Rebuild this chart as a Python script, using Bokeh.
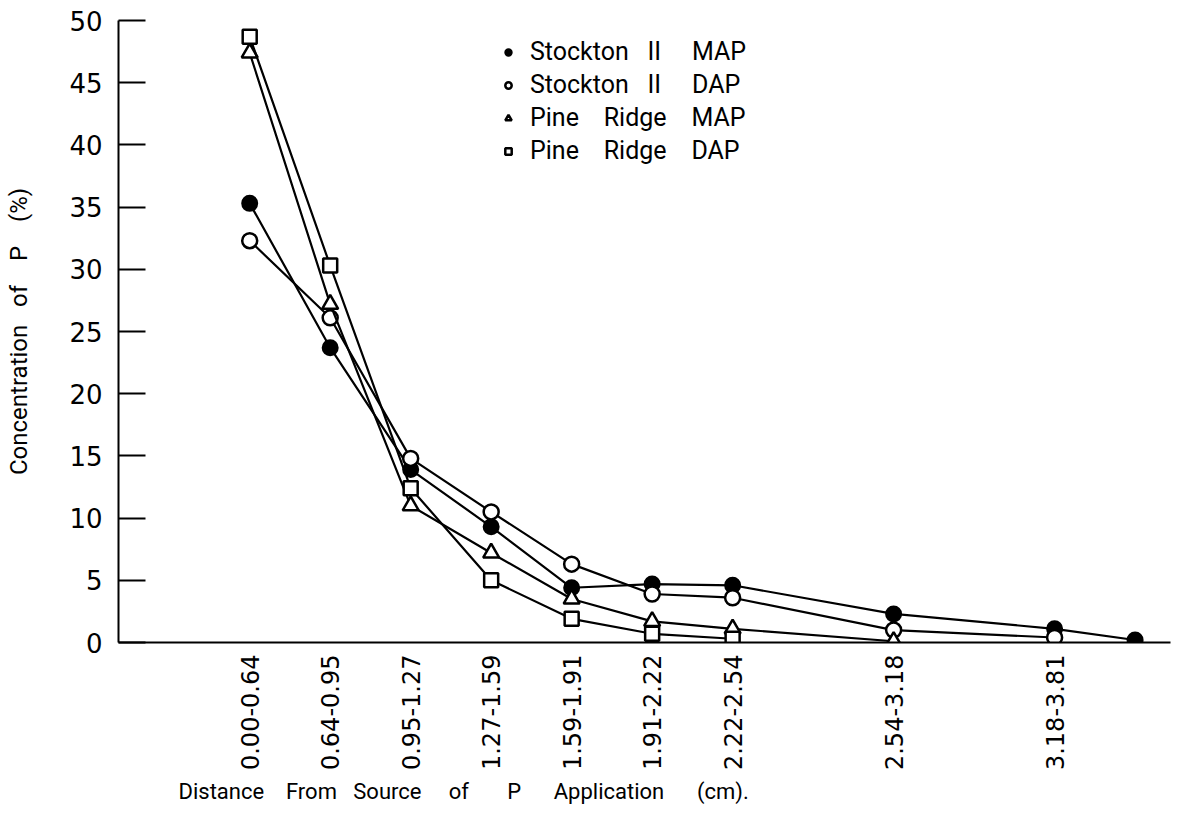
import math
from bokeh.plotting import figure
from bokeh.models import Range1d, FixedTicker, Legend, LegendItem, Title
from bokeh.embed import file_html
from bokeh.resources import INLINE

# ---- data ----
x_labels = ["0.00-0.64", "0.64-0.95", "0.95-1.27", "1.27-1.59", "1.59-1.91",
            "1.91-2.22", "2.22-2.54", "2.54-3.18", "3.18-3.81"]
x_label_pos = [0, 1, 2, 3, 4, 5, 6, 8, 10]
x_pos = [0, 1, 2, 3, 4, 5, 6, 8, 10, 11]

stockton_map = [35.3, 23.7, 13.9, 9.3, 4.4, 4.7, 4.6, 2.3, 1.1, 0.2]
stockton_dap = [32.3, 26.1, 14.8, 10.5, 6.3, 3.9, 3.6, 1.0, 0.4]
pine_map = [47.4, 27.2, 11.0, 7.2, 3.5, 1.7, 1.1, 0.1]
pine_dap = [48.7, 30.3, 12.4, 5.0, 1.9, 0.7, 0.3]

y_ticks = [0, 5, 10, 15, 20, 25, 30, 35, 40, 45, 50]

FONT_TICK = "DejaVu Sans"
FONT_TXT = "Roboto"

W, H = 1178, 816
p = figure(width=W, height=H, output_backend="svg", toolbar_location=None,
           x_range=Range1d(-1.63, 11.44), y_range=Range1d(0, 50),
           min_border_left=118, min_border_right=8, min_border_top=20,
           min_border_bottom=174)
p.outline_line_color = None
p.xgrid.visible = False
p.ygrid.visible = False
p.background_fill_color = "white"

lw = 2.2
r1l = p.line(x_pos[:len(stockton_map)], stockton_map, line_color="black", line_width=lw)
r1m = p.scatter(x_pos[:len(stockton_map)], stockton_map, marker="circle", size=15,
                fill_color="black", line_color="black", line_width=2)
r2l = p.line(x_pos[:len(stockton_dap)], stockton_dap, line_color="black", line_width=lw)
r2m = p.scatter(x_pos[:len(stockton_dap)], stockton_dap, marker="circle", size=15,
                fill_color="white", line_color="black", line_width=2.5)
r3l = p.line(x_pos[:len(pine_map)], pine_map, line_color="black", line_width=lw)
r3m = p.scatter(x_pos[:len(pine_map)], pine_map, marker="triangle", size=16,
                fill_color="white", line_color="black", line_width=2.5)
r4l = p.line(x_pos[:len(pine_dap)], pine_dap, line_color="black", line_width=lw)
r4m = p.scatter(x_pos[:len(pine_dap)], pine_dap, marker="square", size=14,
                fill_color="white", line_color="black", line_width=2.5)

sp = "\u00a0"

# axes
yax = p.yaxis[0]
yax.ticker = FixedTicker(ticks=y_ticks)
yax.major_tick_in = 27
yax.major_tick_out = 0
yax.minor_tick_in = 0
yax.minor_tick_out = 0
yax.axis_line_width = 2
yax.major_tick_line_width = 2
yax.major_label_text_font = FONT_TICK
yax.major_label_text_font_size = "26px"
yax.major_label_text_color = "black"
yax.major_label_standoff = 16
yax.axis_label = "Concentration" + sp * 3 + "of" + sp * 4 + "P" + sp * 4 + "(%)"
yax.axis_label_text_font = FONT_TXT
yax.axis_label_text_font_size = "24px"
yax.axis_label_text_font_style = "normal"
yax.axis_label_text_color = "black"
yax.axis_label_standoff = 33

xax = p.xaxis[0]
xax.ticker = FixedTicker(ticks=x_label_pos)
xax.major_label_overrides = {k: v for k, v in zip(x_label_pos, x_labels)}
xax.major_label_orientation = math.pi / 2
xax.major_tick_in = 0
xax.major_tick_out = 0
xax.minor_tick_in = 0
xax.minor_tick_out = 0
xax.axis_line_width = 2
xax.major_label_text_font = FONT_TICK
xax.major_label_text_font_size = "24px"
xax.major_label_text_color = "black"
xax.major_label_standoff = 12

xtitle = Title(text="Distance" + sp * 4 + "From" + sp * 3 + "Source" + sp * 5 + "of" + sp * 7
               + "P" + sp * 6 + "Application" + sp * 6 + "(cm).",
               align="left", offset=60, standoff=6,
               text_font=FONT_TXT, text_font_size="22px", text_font_style="normal",
               text_color="black")
p.add_layout(xtitle, "below")

# legend
legend = Legend(items=[
    LegendItem(label="Stockton" + sp * 3 + "II" + sp * 5 + "MAP", renderers=[r1m]),
    LegendItem(label="Stockton" + sp * 3 + "II" + sp * 5 + "DAP", renderers=[r2m]),
    LegendItem(label="Pine" + sp * 4 + "Ridge" + sp * 4 + "MAP", renderers=[r3m]),
    LegendItem(label="Pine" + sp * 4 + "Ridge" + sp * 4 + "DAP", renderers=[r4m]),
], location=(382, 477))
legend.label_text_font = FONT_TXT
legend.label_text_font_size = "25px"
legend.label_text_color = "black"
legend.glyph_width = 16
legend.glyph_height = 16
legend.label_standoff = 14
legend.spacing = 4
legend.padding = 0
legend.margin = 0
legend.border_line_color = None
legend.background_fill_alpha = 0
p.add_layout(legend)

open("out.html", "w").write(file_html(p, INLINE))
